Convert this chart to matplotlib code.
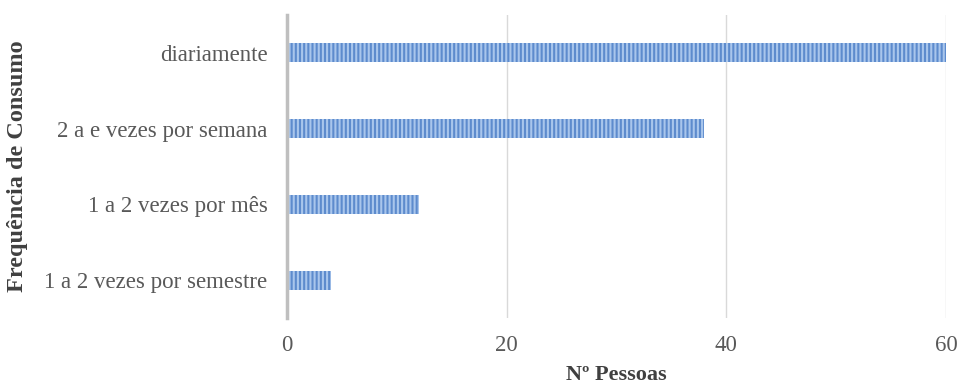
import matplotlib
matplotlib.use("Agg")
import matplotlib.pyplot as plt

categorias = ["1 a 2 vezes por semestre", "1 a 2 vezes por mês",
              "2 a e vezes por semana", "diariamente"]
pessoas = [4, 12, 38, 60]
ticks_x = [0, 20, 40, 60]

plt.rcParams['font.family'] = ['Liberation Serif', 'DejaVu Serif']
plt.rcParams['hatch.linewidth'] = 1.5

fig = plt.figure(figsize=(9.57, 3.85), dpi=100)
ax = fig.add_axes([0.2999, 0.174, 0.6886, 0.787])

ax.barh(categorias, pessoas, height=0.25, color='#5d8bcd',
        edgecolor='#a9c6ec', hatch='||||', linewidth=0)

ax.set_xlim(0, 60)
ax.set_ylim(-0.5, 3.5)
ax.set_xticks(ticks_x)
ax.grid(axis='x', color='#d9d9d9', linewidth=1)
ax.set_axisbelow(True)
for s in ['top', 'right', 'bottom']:
    ax.spines[s].set_visible(False)
ax.spines['left'].set_color('#bfbfbf')
ax.spines['left'].set_linewidth(2.5)
ax.tick_params(length=0, labelsize=16.5, labelcolor='#595959')
ax.tick_params(axis='x', pad=12)
ax.tick_params(axis='y', pad=14)

ax.set_xlabel("Nº Pessoas", fontsize=16, fontweight='bold', color='#404040')
ax.set_ylabel("Frequência de Consumo", fontsize=17.5, fontweight='bold', color='#404040')
ax.xaxis.set_label_coords(0.5, -0.155)
ax.yaxis.set_label_coords(-0.393, 0.5)

fig.savefig("out.png", dpi=100)
